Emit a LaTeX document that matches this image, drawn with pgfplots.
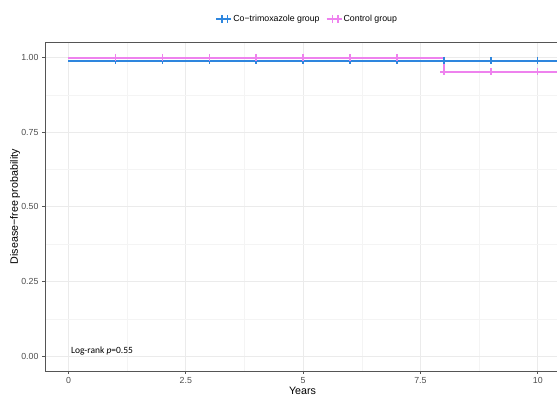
\documentclass[border=0pt]{standalone}
\usepackage{pgfplots}
\pgfplotsset{compat=1.18}
\usepackage{fontspec}
\setmainfont{Liberation Sans}
\newfontfamily\carlito{Carlito}
\definecolor{kmblue}{HTML}{2E86DE}
\definecolor{kmpink}{HTML}{EE82EE}
\definecolor{gridmaj}{HTML}{EBEBEB}
\definecolor{gridmin}{HTML}{F4F4F4}
\definecolor{tickgrey}{HTML}{4D4D4D}
\definecolor{bordergrey}{HTML}{555555}
\begin{document}
\begin{tikzpicture}[x=1pt,y=1pt]
\useasboundingbox (-45,-25) rectangle (512,371);
\begin{axis}[
  at={(0,0)}, anchor=south west,
  scale only axis, width=512pt, height=328.4pt,
  xmin=-0.5, xmax=10.41, ymin=-0.05, ymax=1.05,
  axis lines=left,
  axis line style={-, draw=bordergrey, line width=0.8pt},
  tick align=outside,
  major tick length=3pt, minor tick length=0pt,
  tick style={bordergrey, line width=0.7pt},
  xtick={0,2.5,5,7.5,10}, xticklabels={0,2.5,5,7.5,10},
  ytick={0,0.25,0.5,0.75,1}, yticklabels={0.00,0.25,0.50,0.75,1.00},
  minor xtick={1.25,3.75,6.25,8.75},
  minor ytick={0.125,0.375,0.625,0.875},
  grid=both,
  major grid style={gridmaj, line width=0.8pt},
  minor grid style={gridmin, line width=0.5pt},
  /pgf/number format/assume math mode=true,
  ticklabel style={font=\fontsize{8.8}{10}\selectfont, text=tickgrey},
  xlabel={Years},
  ylabel={Disease\char"2212 free probability},
  label style={font=\fontsize{10.7}{12}\selectfont},
  x label style={at={(axis description cs:0.503,0)}, anchor=center, yshift=-19.5pt},
  y label style={at={(axis description cs:-0.0586,0.5)}, anchor=center},
  legend columns=2,
  legend style={at={(axis description cs:0.512,1)}, anchor=center, yshift=23.5pt,
    draw=none, fill=none, font=\fontsize{8.8}{10}\selectfont,
    /tikz/every even column/.append style={column sep=4pt}},
  legend image code/.code={\draw[mark repeat=2,mark phase=2] plot coordinates {(0cm,0cm) (0.2cm,0cm) (0.4cm,0cm)};},
]
\addplot[kmblue, line width=2pt, mark=+, mark size=3.6pt, mark options={line width=1.4pt},
  mark indices={2,3,4,5,6,7,8,9,10,11}]
  coordinates {(0,0.99) (1,0.99) (2,0.99) (3,0.99) (4,0.99) (5,0.99) (6,0.99) (7,0.99) (8,0.99) (9,0.99) (10,0.99) (10.5,0.99)};
\addlegendentry{Co\char"2212 trimoxazole group}
\addplot[kmpink, line width=2pt, mark=+, mark size=3.6pt, mark options={line width=1.4pt},
  mark indices={2,3,4,5,6,7,8,10,11,12}]
  coordinates {(0,1) (1,1) (2,1) (3,1) (4,1) (5,1) (6,1) (7,1) (8,1) (8,0.952) (9,0.952) (10,0.952) (10.5,0.952)};
\addlegendentry{Control group}
\node[anchor=west, font=\carlito\fontsize{9.5}{11}\selectfont, inner sep=0pt] at (axis cs:0.05,0.016) {Log-rank \textit{p}=0.55};
\draw[bordergrey, line width=0.8pt] (rel axis cs:0,1) -- (rel axis cs:1,1);
\end{axis}
\end{tikzpicture}
\end{document}
